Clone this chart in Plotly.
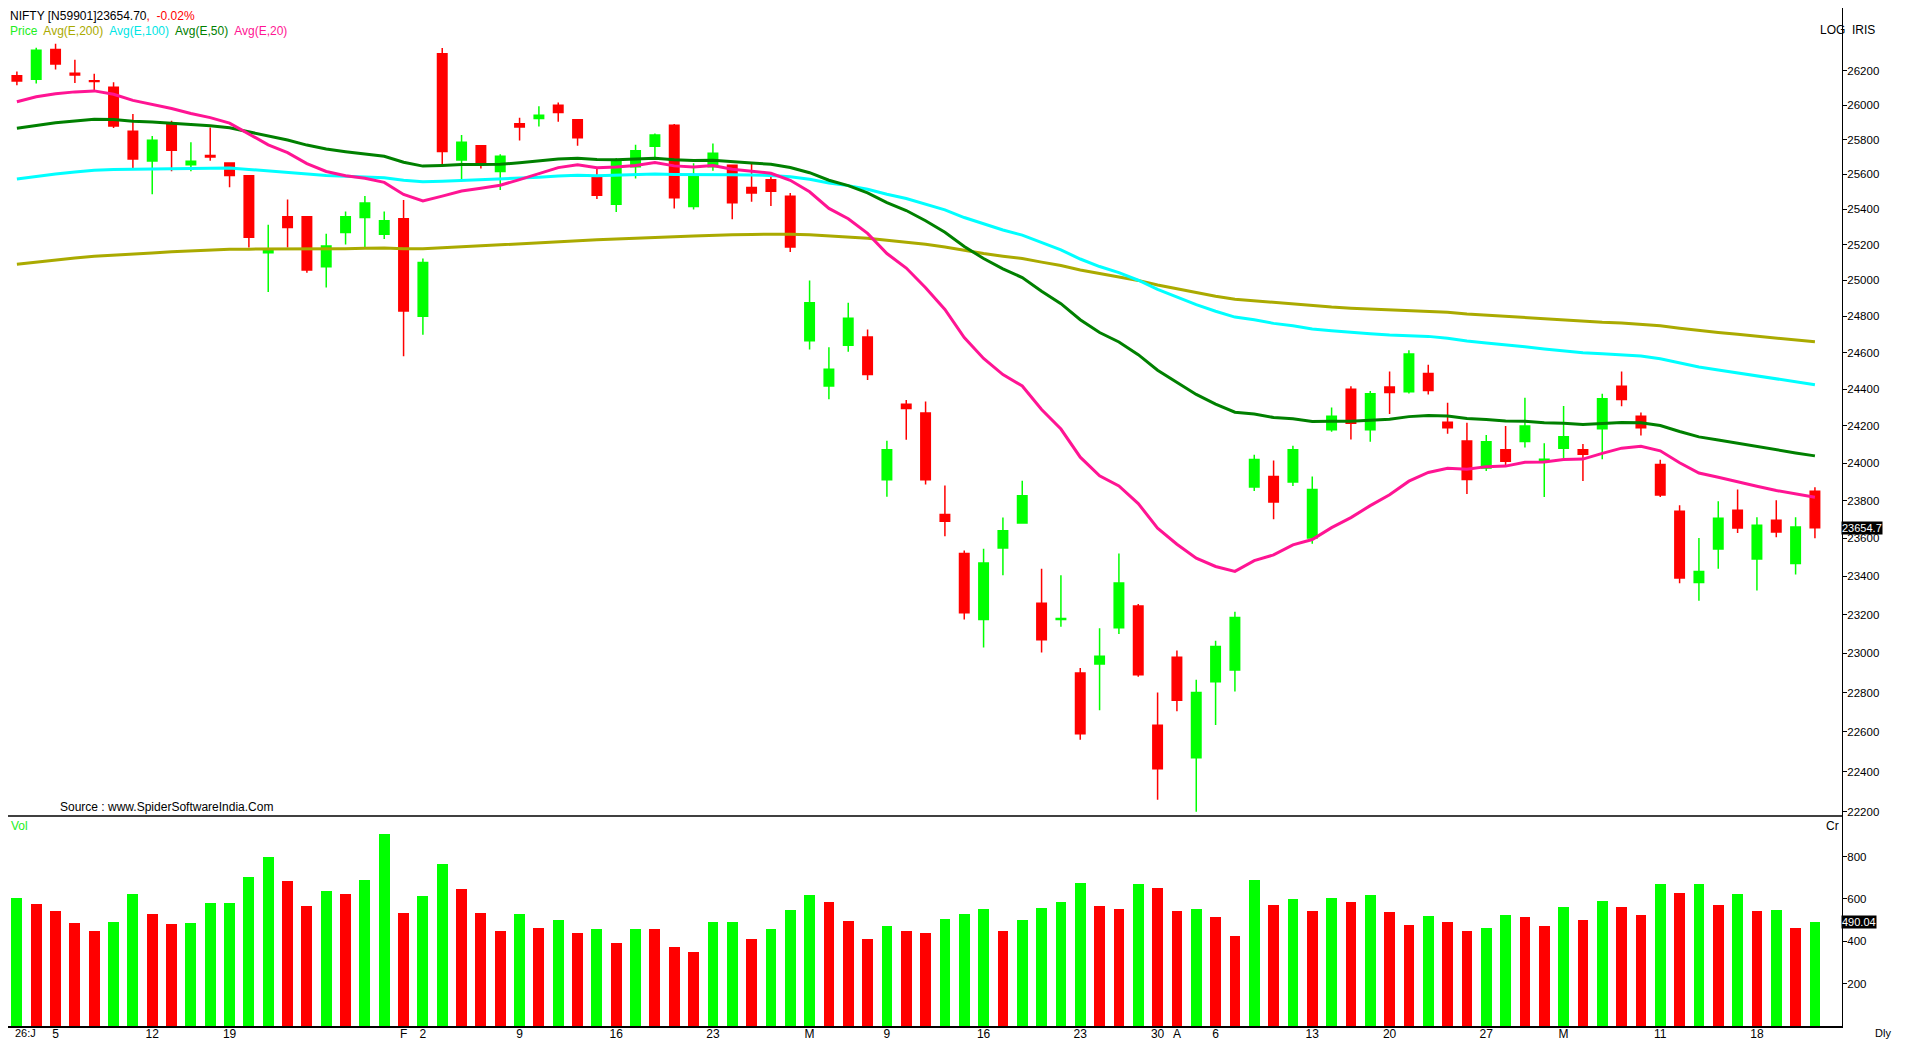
import plotly.graph_objects as go
import math

# daily candles, index 0 = 1 Jan 2026
opens = [26170, 26150, 26325, 26185, 26142, 26104, 25848, 25677, 25889, 25655,
         25708, 25665, 25592, 25155, 25358, 25358, 25076, 25270, 25354, 25259,
         25347, 24801, 26299, 25683, 25764, 25616, 25891, 25922, 25998, 25915,
         25583, 25430, 25644, 25761, 25882, 25416, 25644, 25652, 25525, 25569,
         25475, 24665, 24417, 24640, 24686, 23910, 24318, 24270, 23725, 23520,
         23175, 23548, 23680, 23260, 23175, 22900, 22945, 23132, 23245, 22633,
         22980, 22470, 22855, 22915, 23872, 23928, 23898, 23601, 24179, 24399,
         24179, 24411, 24385, 24485, 24220, 24119, 23974, 24072, 24116, 24010,
         24079, 24072, 24185, 24416, 24252, 23992, 23743, 23368, 23543, 23748,
         23490, 23695, 23467, 23849]
highs = [26195, 26335, 26358, 26265, 26182, 26132, 25948, 25821, 25909, 25785,
         25870, 25665, 25597, 25313, 25456, 25360, 25262, 25388, 25476, 25388,
         25453, 25123, 26333, 25826, 25767, 25716, 25926, 25993, 26015, 25915,
         25638, 25694, 25770, 25835, 25890, 25663, 25777, 25652, 25660, 25588,
         25493, 25000, 24630, 24876, 24727, 24120, 24340, 24332, 23880, 23535,
         23545, 23710, 23905, 23440, 23405, 22925, 23130, 23520, 23255, 22800,
         23015, 22865, 23065, 23215, 24045, 24013, 24093, 23928, 24300, 24416,
         24390, 24496, 24613, 24533, 24326, 24217, 24151, 24199, 24353, 24107,
         24308, 24102, 24374, 24496, 24273, 24017, 23775, 23601, 23796, 23859,
         23711, 23801, 23711, 23870]
lows = [26115, 26125, 26207, 26128, 26088, 25866, 25636, 25486, 25618, 25618,
        25678, 25527, 25185, 24936, 25185, 25043, 24960, 25202, 25185, 25232,
        24580, 24698, 25660, 25573, 25633, 25510, 25795, 25876, 25903, 25764,
        25460, 25386, 25576, 25687, 25405, 25400, 25621, 25344, 25444, 25420,
        25159, 24617, 24345, 24605, 24450, 23820, 24125, 23885, 23610, 23175,
        23030, 23405, 23676, 23005, 23138, 22560, 22710, 23100, 22880, 22260,
        22705, 22200, 22635, 22805, 23851, 23700, 23877, 23571, 24169, 24126,
        24114, 24264, 24376, 24370, 24158, 23835, 23957, 23983, 24084, 23819,
        24024, 23904, 24020, 24307, 24148, 23819, 23363, 23272, 23440, 23628,
        23326, 23605, 23409, 23600]
closes = [26140, 26320, 26240, 26175, 26137, 25878, 25688, 25796, 25738, 25675,
          25700, 25594, 25243, 25168, 25298, 25059, 25193, 25358, 25436, 25336,
          24830, 25101, 25731, 25785, 25666, 25704, 25872, 25941, 25956, 25811,
          25481, 25679, 25736, 25826, 25466, 25586, 25721, 25438, 25493, 25504,
          25187, 24875, 24508, 24790, 24480, 24072, 24295, 23910, 23690, 23210,
          23470, 23640, 23825, 23070, 23180, 22590, 22985, 23365, 22890, 22415,
          22760, 22800, 23035, 23185, 24019, 23792, 24072, 23859, 24252, 24215,
          24374, 24381, 24592, 24392, 24190, 23912, 24114, 24010, 24199, 24020,
          24141, 24047, 24347, 24344, 24190, 23829, 23391, 23425, 23706, 23654,
          23668, 23633, 23659, 23654.7]

volume = [606, 574, 543, 488, 447, 492, 625, 529, 483, 488,
          579, 579, 702, 798, 684, 565, 638, 625, 688, 907,
          533, 615, 766, 647, 533, 451, 529, 465, 501, 438,
          460, 392, 460, 456, 374, 351, 492, 492, 410, 456,
          547, 620, 588, 497, 410, 474, 447, 438, 506, 529,
          552, 451, 501, 556, 588, 675, 565, 552, 670, 652,
          543, 552, 515, 424, 688, 570, 602, 543, 606, 584,
          620, 538, 479, 520, 492, 451, 465, 524, 515, 474,
          564, 500, 591, 564, 523, 673, 628, 669, 573, 623,
          541, 550, 464, 490.04]
vol_up = [1, 0, 0, 0, 0, 1, 1, 0, 0, 1, 1, 1, 1, 1, 0, 0, 1, 0, 1, 1,
          0, 1, 1, 0, 0, 0, 1, 0, 1, 0, 1, 0, 1, 0, 0, 0, 1, 1, 0, 1,
          1, 1, 0, 0, 0, 1, 0, 0, 1, 1, 1, 0, 1, 1, 1, 1, 0, 0, 1, 0,
          0, 1, 0, 0, 1, 0, 1, 0, 1, 0, 1, 0, 0, 1, 0, 0, 1, 1, 0, 0,
          1, 0, 1, 0, 0, 1, 0, 1, 0, 1, 0, 1, 0, 1]

# EMA values on the first bar
ema_start = {200: 25091, 100: 25574, 50: 25865, 20: 26019}
ema_colors = {200: "#AAAA00", 100: "#00FFFF", 50: "#008000", 20: "#FF1493"}

tick_pos = [2, 7, 11, 20, 21, 26, 31, 36, 41, 45, 50, 55, 59, 60, 62, 67, 71, 76, 80, 85, 90]
tick_txt = ["5", "12", "19", "F", "2", "9", "16", "23", "M", "9", "16", "23",
            "30", "A", "6", "13", "20", "27", "M", "11", "18"]
first_label = "26:J"

GREEN = "#00FF00"
RED = "#FF0000"
FONT = "Liberation Sans"
x = list(range(len(closes)))


def ema(vals, n, start):
    a = 2 / (n + 1)
    out = [start]
    for v in vals[1:]:
        out.append(out[-1] + a * (v - out[-1]))
    return out


fig = go.Figure()
fig.add_trace(go.Candlestick(
    x=x, open=opens, high=highs, low=lows, close=closes,
    increasing=dict(line=dict(color=GREEN, width=1.5), fillcolor=GREEN),
    decreasing=dict(line=dict(color=RED, width=1.5), fillcolor=RED),
    whiskerwidth=0, xaxis="x", yaxis="y", hoverinfo="skip"))

for n in [200, 100, 50, 20]:
    fig.add_trace(go.Scatter(x=x, y=ema(closes, n, ema_start[n]), mode="lines",
                             line=dict(color=ema_colors[n], width=3),
                             xaxis="x", yaxis="y", hoverinfo="skip"))

fig.add_trace(go.Bar(x=x, y=volume, width=0.56,
                     marker=dict(color=[GREEN if u else RED for u in vol_up], line_width=0),
                     xaxis="x", yaxis="y2", hoverinfo="skip"))

# leave room for the page scrollbars
FIG_W, FIG_H = 1888, 1040
PLOT_W = 1834
PLOT_H = 1018
SEP = 808
split = (PLOT_H - SEP) / PLOT_H

fig.update_layout(
    width=FIG_W, height=FIG_H, showlegend=False,
    margin=dict(l=0, r=FIG_W - PLOT_W, t=0, b=FIG_H - PLOT_H),
    paper_bgcolor="white", plot_bgcolor="white",
    font=dict(family=FONT, size=12, color="black"),
    bargap=0,
    xaxis=dict(range=[-0.46, 94.4], tickvals=tick_pos, ticktext=tick_txt,
               showgrid=False, zeroline=False, showline=True, linecolor="black",
               linewidth=1.5, ticks="", rangeslider=dict(visible=False),
               anchor="y2", tickfont=dict(size=12), ticklabelstandoff=-4),
    yaxis=dict(type="log", domain=[split, 1],
               range=[math.log10(22179), math.log10(26570)],
               side="right", tickvals=list(range(22200, 26400, 200)), tickformat="d",
               showgrid=False, zeroline=False, showline=True, linecolor="black",
               ticks="outside", ticklen=4, tickcolor="black", tickfont=dict(size=11.5),
               ticklabelstandoff=-2),
    yaxis2=dict(domain=[0, split], range=[0, 992], side="right",
                tickvals=[200, 400, 600, 800], showgrid=False, zeroline=False,
                showline=True, linecolor="black", ticks="outside", ticklen=4,
                tickcolor="black", tickfont=dict(size=11.5), ticklabelstandoff=-2),
)

fig.add_shape(type="line", xref="paper", yref="paper", x0=0, x1=1, y0=split, y1=split,
              line=dict(color="black", width=1.5))


def py(p):
    return 1 - p / PLOT_H


legend = ("<span style='color:#22EE22'>Price</span>  "
          "<span style='color:#AAAA00'>Avg(E,200)</span>  "
          "<span style='color:#00E5E5'>Avg(E,100)</span>  "
          "<span style='color:#008000'>Avg(E,50)</span>  "
          "<span style='color:#FF1493'>Avg(E,20)</span>")
notes = [
    (0, 8, "NIFTY [N59901]23654.70<span style='color:red'>,  -0.02%</span>"),
    (0, 23, legend),
    (1810 / PLOT_W, 22, "LOG  IRIS"),
    (50 / PLOT_W, SEP - 9, "Source : www.SpiderSoftwareIndia.Com"),
    (1 / PLOT_W, SEP + 10, "<span style='color:#22EE22'>Vol</span>"),
    (1816 / PLOT_W, SEP + 10, "Cr"),
]
for xx, yy, txt in notes:
    fig.add_annotation(x=xx, y=py(yy), xref="paper", yref="paper", text=txt,
                       showarrow=False, xanchor="left", yanchor="middle",
                       font=dict(size=12))
fig.add_annotation(x=6 / PLOT_W, y=0, xref="paper", yref="paper", text=first_label,
                   showarrow=False, xanchor="left", yanchor="top", borderpad=0,
                   font=dict(size=11))
fig.add_annotation(x=1.0, y=0, xref="paper", yref="paper", text="Dly",
                   showarrow=False, xanchor="right", yanchor="top", borderpad=0,
                   xshift=FIG_W - PLOT_W - 4, font=dict(size=11))

fig.add_annotation(x=1.0, y=math.log10(closes[-1]), xref="paper", yref="y",
                   text="%.1f" % closes[-1], showarrow=False, xanchor="left",
                   bgcolor="black", font=dict(color="white", size=11), borderpad=0,
                   xshift=-1)
fig.add_annotation(x=1.0, y=volume[-1], xref="paper", yref="y2",
                   text="%.2f" % volume[-1], showarrow=False, xanchor="left",
                   bgcolor="black", font=dict(color="white", size=11), borderpad=0,
                   xshift=-1)

fig.write_html("out.html")
